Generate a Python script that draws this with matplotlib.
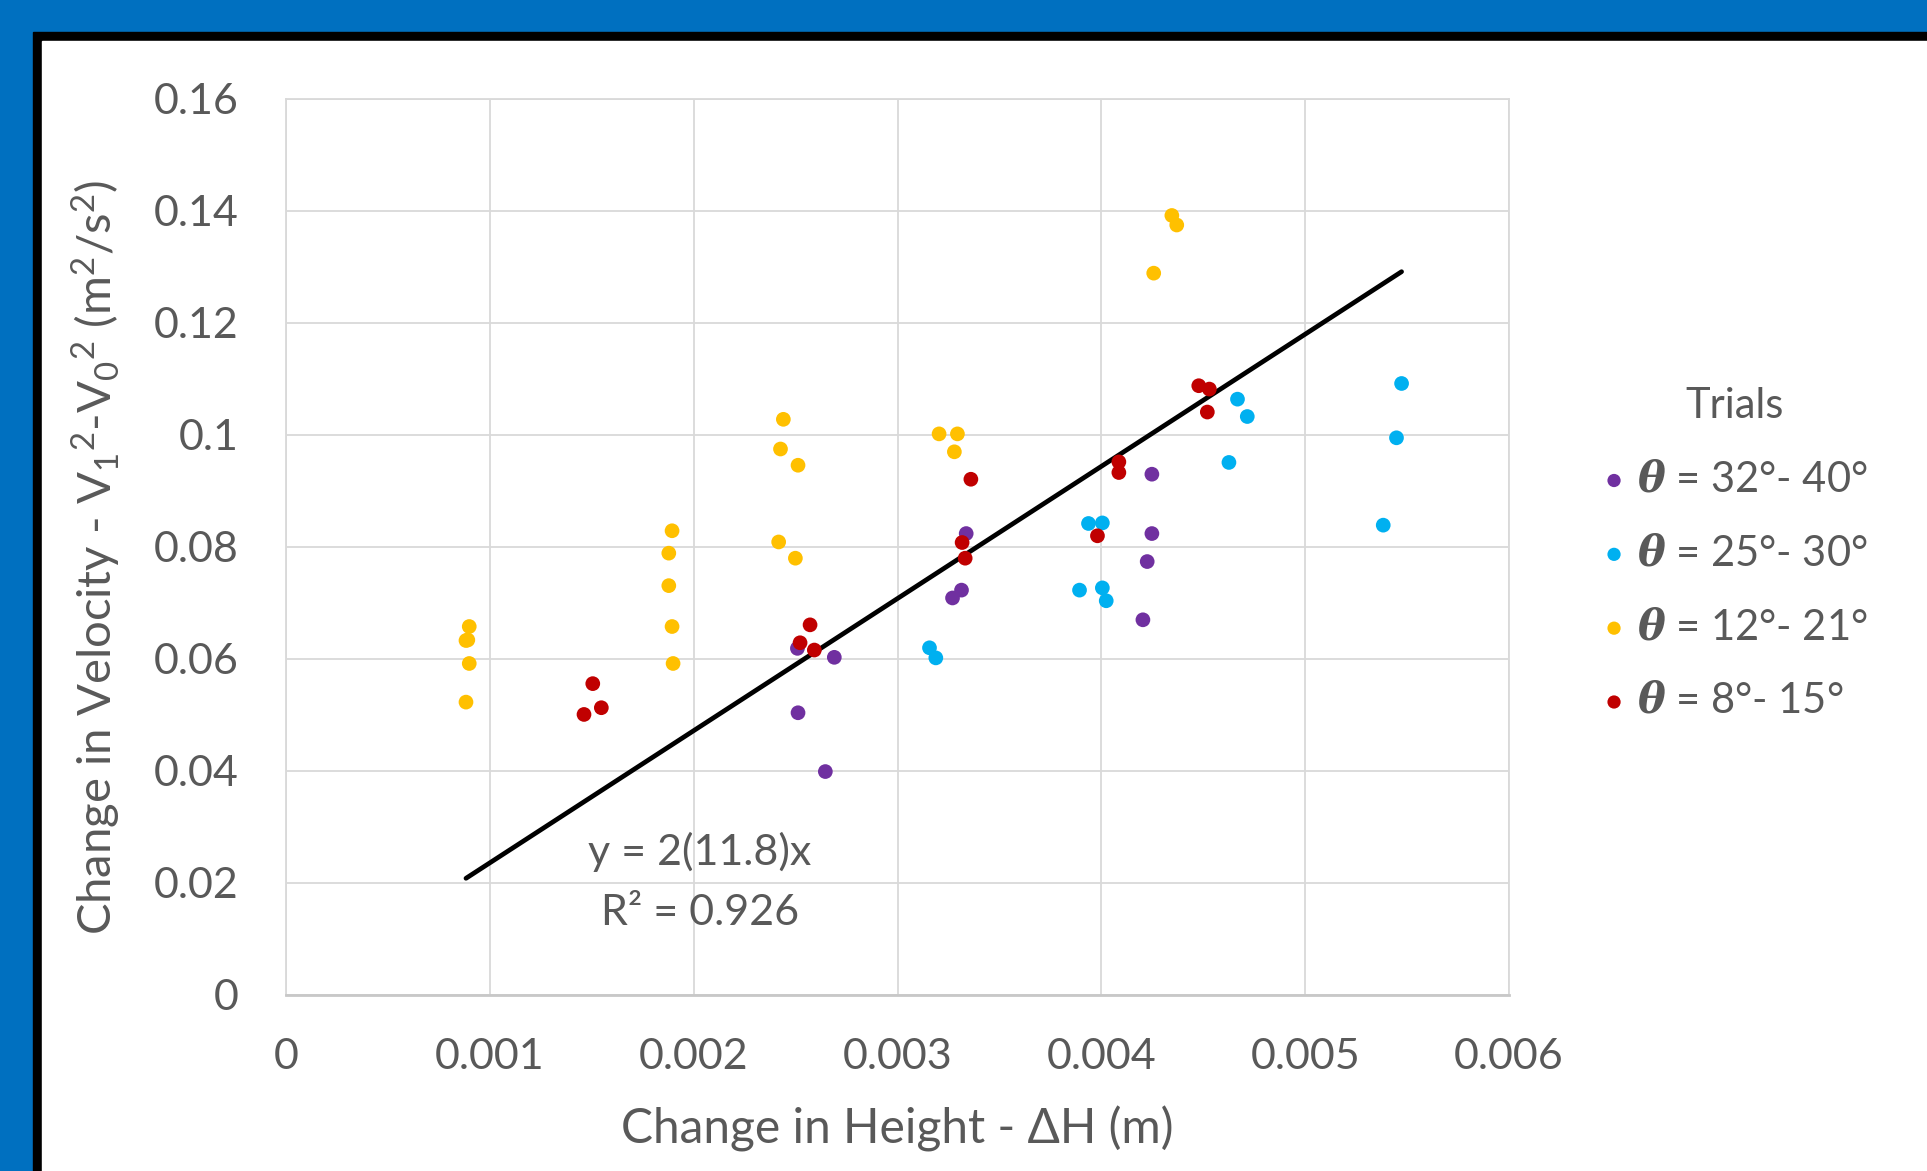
"""Change in velocity^2 vs change in height, four angle groups + linear fit."""
import numpy as np
import matplotlib
matplotlib.use("Agg")
from matplotlib import pyplot as plt
from matplotlib.patches import Rectangle
from matplotlib.ticker import FuncFormatter, MultipleLocator

plt.rcParams["font.family"] = ["Lato", "DejaVu Sans"]
plt.rcParams["mathtext.fontset"] = "dejavuserif"

# --- data ---
dh_32_40 = [0.002509, 0.00269, 0.002512, 0.002646, 0.003337, 0.003314, 0.00327,
            0.004248, 0.004248, 0.004225, 0.004204]
dv_32_40 = [0.0619, 0.0603, 0.0504, 0.0399, 0.0824, 0.0723, 0.0709,
            0.0930, 0.0824, 0.0774, 0.0670]

dh_25_30 = [0.003157, 0.003188, 0.003937, 0.004005, 0.003893, 0.004005, 0.004024,
            0.004626, 0.004668, 0.004716, 0.005473, 0.005448, 0.005383]
dv_25_30 = [0.0620, 0.0602, 0.0842, 0.0843, 0.0723, 0.0727, 0.0704,
            0.0951, 0.1064, 0.1033, 0.1092, 0.0995, 0.0839]

dh_12_21 = [0.000899, 0.000883, 0.000892, 0.000899, 0.000883,
            0.001894, 0.001878, 0.001878, 0.001894, 0.001899,
            0.00244, 0.002426, 0.002512, 0.002417, 0.002499,
            0.003204, 0.003294, 0.003279,
            0.004346, 0.00437, 0.004257]
dv_12_21 = [0.0658, 0.0633, 0.0634, 0.0592, 0.0523,
            0.0829, 0.0789, 0.0731, 0.0658, 0.0592,
            0.1028, 0.0975, 0.0946, 0.0809, 0.0780,
            0.1002, 0.1002, 0.0970,
            0.1392, 0.1375, 0.1289]

dh_8_15 = [0.001505, 0.001547, 0.001462, 0.002571, 0.002522, 0.002592,
           0.00336, 0.003317, 0.003332, 0.003981, 0.004086, 0.004086,
           0.004478, 0.00453, 0.00452]
dv_8_15 = [0.0556, 0.0513, 0.0501, 0.0661, 0.0629, 0.0616,
           0.0921, 0.0808, 0.0780, 0.0820, 0.0952, 0.0933,
           0.1088, 0.1082, 0.1041]

series = [
    (dh_32_40, dv_32_40, "#7030A0", r"$\boldsymbol{\theta}$ = 32°- 40°"),
    (dh_25_30, dv_25_30, "#00B0F0", r"$\boldsymbol{\theta}$ = 25°- 30°"),
    (dh_12_21, dv_12_21, "#FFC000", r"$\boldsymbol{\theta}$ = 12°- 21°"),
    (dh_8_15, dv_8_15, "#C00000", r"$\boldsymbol{\theta}$ = 8°- 15°"),
]

slope = 2 * 11.8
fit_label = "y = 2(11.8)x"
r2_label = "R² = 0.926"

TEXT = "#595959"
GRID = "#D9D9D9"
W, H = 1927, 1171

fig = plt.figure(figsize=(W / 100, H / 100), dpi=100, facecolor="#0070C0")
# black frame + white panel running off the right/bottom edges
fig.patches.append(Rectangle((33 / W, -0.1), 1.2, 1 - 32 / H + 0.1,
                             transform=fig.transFigure, color="black", zorder=-3))
fig.patches.append(Rectangle((42 / W, -0.1), 1.2, 1 - 41 / H + 0.1,
                             transform=fig.transFigure, color="white", zorder=-2))

ax = fig.add_axes([286 / W, 1 - 995 / H, (1509 - 286) / W, (995 - 99) / H])
ax.set_zorder(1)
ax.set_facecolor("white")

all_x = np.concatenate([np.asarray(s[0]) for s in series])
xs = np.array([all_x.min(), all_x.max()])
ax.plot(xs, slope * xs, color="black", lw=3.4, zorder=2, solid_capstyle="round")

for x, y, c, lab in series:
    ax.scatter(x, y, s=112, color=c, edgecolors="none", zorder=3, label=lab)

ax.set_xlim(0, 0.006)
ax.set_ylim(0, 0.16)
ax.xaxis.set_major_locator(MultipleLocator(0.001))
ax.yaxis.set_major_locator(MultipleLocator(0.02))
fmt = FuncFormatter(lambda v, p: f"{v:g}")
ax.xaxis.set_major_formatter(fmt)
ax.yaxis.set_major_formatter(fmt)
ax.tick_params(length=0, labelsize=31, colors=TEXT)
ax.tick_params(axis="y", pad=34)
ax.tick_params(axis="x", pad=31)
ax.grid(True, color=GRID, lw=1.3, zorder=0)
ax.set_axisbelow(True)
for sp in ax.spines.values():
    sp.set_color(GRID)
    sp.set_linewidth(1.3)
ax.spines["bottom"].set_color("#C8C8C8")
ax.spines["bottom"].set_linewidth(2)

fig.text(897 / W, 1 - 1143 / H, "Change in Height - ΔH (m)", ha="center",
         va="baseline", fontsize=34.5, color=TEXT)
fig.text(96 / W, 1 - 557 / H,
         r"Change in Velocity - V$\mathregular{_1}$$\mathregular{^2}$"
         r"-V$\mathregular{_0}$$\mathregular{^2}$ "
         r"(m$\mathregular{^2}$/s$\mathregular{^2}$)",
         rotation=90, ha="center", va="center", fontsize=34, color=TEXT)

ax.text(0.00203, 0.0255, fit_label, ha="center", va="center", fontsize=31, color=TEXT)
ax.text(0.00203, 0.0146, r2_label, ha="center", va="center", fontsize=31, color=TEXT)

leg = ax.legend(loc="center left", bbox_to_anchor=(1.045, 0.493), frameon=False,
                title="Trials", fontsize=30, title_fontsize=30,
                handletextpad=0.25, labelspacing=0.86, handlelength=0.6,
                markerscale=0.9)
for t in leg.get_texts():
    t.set_color(TEXT)
leg.get_title().set_color(TEXT)

fig.savefig("out.png", dpi=100, facecolor=fig.get_facecolor())
